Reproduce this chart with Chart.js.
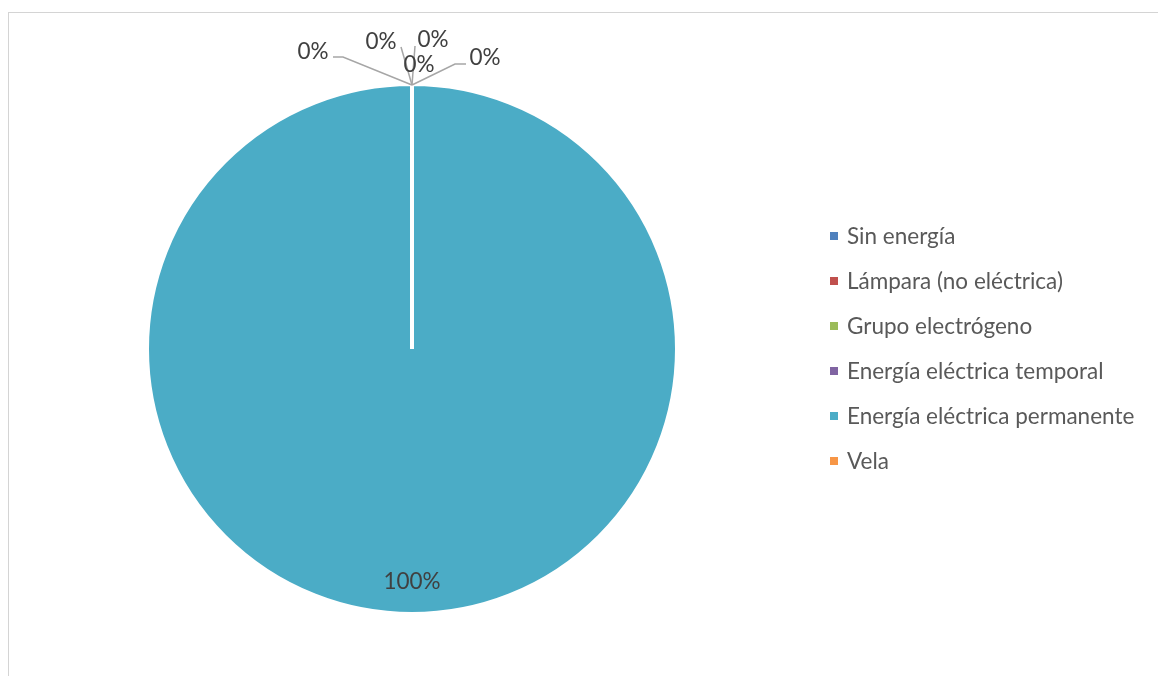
<!DOCTYPE html>
<html><head><meta charset="utf-8">
<script src="https://cdn.jsdelivr.net/npm/chart.js@4"></script>
<style>
html,body{margin:0;padding:0;background:#fff;width:1158px;height:676px;overflow:hidden}
#frame{position:absolute;left:8px;top:12px;width:1200px;height:700px;border:1.5px solid #d4d4d4;box-sizing:border-box}
#c{position:absolute;left:0;top:0}
</style></head><body>
<div id="frame"></div>
<canvas id="c" width="1158" height="676"></canvas>
<script>
// ---- data ----
const categories = ['Sin energía','Lámpara (no eléctrica)','Grupo electrógeno','Energía eléctrica temporal','Energía eléctrica permanente','Vela'];
const percentages = [0, 0, 0, 0, 100, 0];
const percentLabels = ['0%','0%','0%','0%','100%','0%'];
const sliceColors = ['#4F81BD','#C0504D','#9BBB59','#8064A2','#4BACC6','#F79646'];

// ---- style ----
const FONT_FAMILY = 'Lato, "Open Sans", sans-serif';
const mctx = document.createElement('canvas').getContext('2d');
mctx.font = '24px ' + FONT_FAMILY;
const FONT_SIZE = Math.round(24 * 287 / mctx.measureText('Energía eléctrica permanente').width * 10) / 10;
const CAP = 0.72 * FONT_SIZE;

// leader / label offsets relative to the slice anchor on the pie edge (styling only)
const labelLayout = [
  {pts: [[-69,-28],[-79,-28]], text: [-99,-34]},
  {pts: [[-11,-38]], text: [-31,-44]},
  {pts: [[3,-39]], text: [21,-46]},
  {pts: [], text: [7,-21]},
  null,
  {pts: [[43,-21],[54,-21]], text: [73,-28]}
];

const labelPlugin = {
  id: 'sliceLabels',
  afterDatasetsDraw(chart) {
    const ctx = chart.ctx;
    const meta = chart.getDatasetMeta(0);
    ctx.save();
    ctx.font = FONT_SIZE + 'px ' + FONT_FAMILY;
    ctx.textAlign = 'center';
    ctx.textBaseline = 'alphabetic';
    meta.data.forEach((arc, i) => {
      const {x, y, startAngle, endAngle, outerRadius} = arc.getProps(['x','y','startAngle','endAngle','outerRadius'], true);
      const mid = (startAngle + endAngle) / 2;
      const r = outerRadius - 2;
      const lay = labelLayout[i];
      ctx.fillStyle = '#404040';
      if (!lay) {
        const lx = x + Math.cos(mid) * r * 0.88;
        const ly = y + Math.sin(mid) * r * 0.88;
        ctx.fillText(percentLabels[i], lx, ly + CAP / 2);
        return;
      }
      const ax = x + Math.cos(mid) * r;
      const ay = y + Math.sin(mid) * r - 1;
      if (lay.pts.length) {
        ctx.strokeStyle = '#a6a6a6';
        ctx.lineWidth = 1.5;
        ctx.beginPath();
        ctx.moveTo(ax, ay);
        lay.pts.forEach(p => ctx.lineTo(ax + p[0], ay + p[1]));
        ctx.stroke();
      }
      ctx.fillText(percentLabels[i], ax + lay.text[0], ay + lay.text[1] + CAP / 2);
    });
    ctx.restore();
  }
};

const legendPlugin = {
  id: 'sideLegend',
  afterDraw(chart) {
    const ctx = chart.ctx;
    ctx.save();
    ctx.font = FONT_SIZE + 'px ' + FONT_FAMILY;
    ctx.textAlign = 'left';
    ctx.textBaseline = 'alphabetic';
    chart.data.labels.forEach((lab, i) => {
      const cy = 236 + i * 45;
      ctx.fillStyle = chart.data.datasets[0].backgroundColor[i];
      ctx.fillRect(830, cy - 4, 8, 8);
      ctx.fillStyle = '#595959';
      ctx.fillText(lab, 847, cy + CAP / 2);
    });
    ctx.restore();
  }
};

new Chart(document.getElementById('c'), {
  type: 'pie',
  data: {
    labels: categories,
    datasets: [{
      data: percentages,
      backgroundColor: sliceColors,
      borderColor: '#ffffff',
      borderWidth: 4
    }]
  },
  options: {
    responsive: false,
    animation: false,
    events: [],
    layout: { padding: { left: 145, right: 479, top: 82, bottom: 60 } },
    plugins: { legend: { display: false }, tooltip: { enabled: false } }
  },
  plugins: [labelPlugin, legendPlugin]
});
</script>
</body></html>
